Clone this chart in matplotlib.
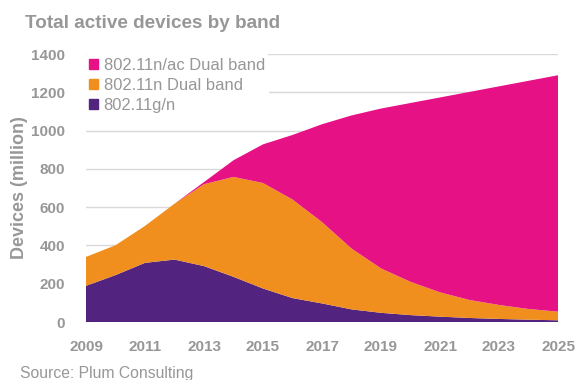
import matplotlib.pyplot as plt
from matplotlib.patches import Patch

plt.rcParams['font.family'] = ['Liberation Sans', 'DejaVu Sans']

years = list(range(2009, 2026))

# million devices per band, stacked bottom to top
g_n = [189, 245, 309, 326, 292, 236, 175, 125, 97, 66, 48, 36, 28, 21, 16, 12, 9]
n_dual = [151, 156, 193, 292, 428, 522, 551, 515, 425, 318, 232, 174, 127, 94, 73, 56, 45]
ac_dual = [0, 0, 0, 0, 11, 87, 202, 337, 511, 695, 835, 934, 1018, 1087, 1142, 1192, 1235]

labels = ['802.11g/n', '802.11n Dual band', '802.11n/ac Dual band']
colors = ['#52247f', '#f08f1e', '#e61185']
grey = '#979797'

fig = plt.figure(figsize=(5.77, 3.80), dpi=100)
ax = fig.add_axes([86 / 577, 1 - 322 / 380, 472 / 577, 268 / 380])

ax.stackplot(years, g_n, n_dual, ac_dual, colors=colors, linewidth=0)

ax.set_xlim(2009, 2025)
ax.set_ylim(0, 1400)
ax.set_xticks(range(2009, 2026, 2))
ax.set_yticks(range(0, 1401, 200))
ax.yaxis.grid(True, color='#d9d9d9', linewidth=1)
ax.set_axisbelow(True)
for s in ax.spines.values():
    s.set_visible(False)
ax.tick_params(length=0, colors=grey, labelsize=11)
ax.tick_params(axis='y', pad=15)
ax.tick_params(axis='x', pad=13)
for lab in ax.get_xticklabels() + ax.get_yticklabels():
    lab.set_fontweight('bold')

ax.set_ylabel('Devices (million)', fontsize=13, fontweight='bold', color=grey)
ax.yaxis.set_label_coords(-0.122, 0.5)

handles = [Patch(color=c) for c in colors][::-1]
leg = ax.legend(handles, labels[::-1], loc='upper left', bbox_to_anchor=(-0.003, 1.0),
                frameon=True, facecolor='white', edgecolor='none', framealpha=1,
                fontsize=11.9, handlelength=0.55, handleheight=0.55, handletextpad=0.35,
                labelspacing=0.3, borderpad=0.25, borderaxespad=0)
for t in leg.get_texts():
    t.set_color(grey)
    t.set_fontweight('medium')

fig.text(25 / 577, 1 - 28 / 380, 'Total active devices by band', fontsize=13.6,
         fontweight='bold', color=grey, va='baseline')
fig.text(20 / 577, 1 - 378 / 380, 'Source: Plum Consulting', fontsize=11.3,
         color=grey, va='baseline')

fig.savefig('out.png', dpi=100)
